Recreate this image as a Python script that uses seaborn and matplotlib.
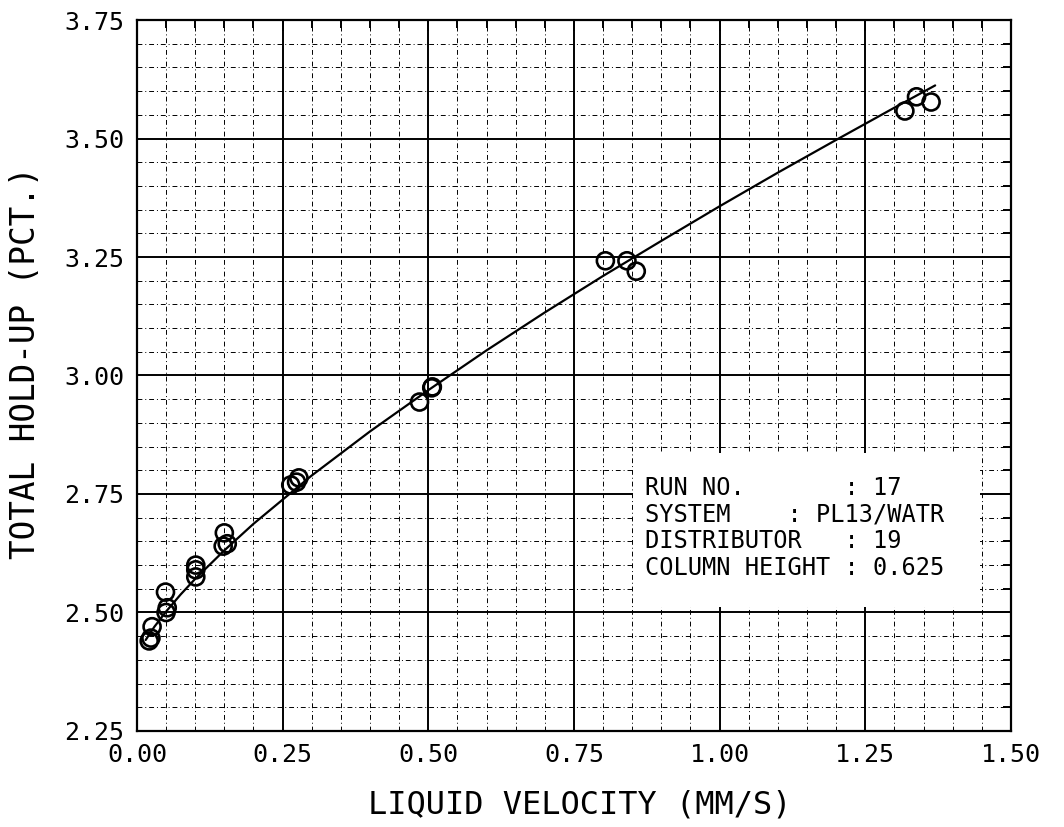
import matplotlib
matplotlib.use("Agg")
import matplotlib.pyplot as plt
import pandas as pd
import seaborn as sns
from matplotlib.patches import Rectangle
from matplotlib.ticker import FixedLocator, FixedFormatter, MultipleLocator

# Measured total hold-up against superficial liquid velocity
velocity = [0.021, 0.024, 0.026, 0.049, 0.052, 0.050, 0.101, 0.101, 0.101,
            0.150, 0.148, 0.155, 0.264, 0.274, 0.278, 0.485, 0.506, 0.507,
            0.804, 0.841, 0.857, 1.318, 1.338, 1.363]
holdup = [2.440, 2.446, 2.470, 2.543, 2.510, 2.500, 2.600, 2.590, 2.575,
          2.668, 2.640, 2.645, 2.769, 2.775, 2.784, 2.944, 2.974, 2.976,
          3.242, 3.242, 3.220, 3.558, 3.588, 3.577]

# Correlation curve through the measurements
fit_velocity = [0.015, 0.03, 0.05, 0.075, 0.10, 0.15, 0.20, 0.30, 0.40, 0.50,
                0.60, 0.70, 0.80, 0.90, 1.00, 1.10, 1.20, 1.30, 1.37]
fit_holdup = [2.442, 2.470, 2.502, 2.538, 2.571, 2.631, 2.687, 2.789, 2.882,
              2.969, 3.053, 3.133, 3.210, 3.284, 3.357, 3.428, 3.497, 3.565,
              3.612]

x_ticks = [0.00, 0.25, 0.50, 0.75, 1.00, 1.25, 1.50]
x_tick_labels = ["0.00", "0.25", "0.50", "0.75", "1.00", "1.25", "1.50"]
y_ticks = [2.25, 2.50, 2.75, 3.00, 3.25, 3.50, 3.75]
y_tick_labels = ["2.25", "2.50", "2.75", "3.00", "3.25", "3.50", "3.75"]

info_lines = ["RUN NO.       : 17",
              "SYSTEM    : PL13/WATR",
              "DISTRIBUTOR   : 19",
              "COLUMN HEIGHT : 0.625"]

sns.set_style("white")
plt.rcParams["font.family"] = ["DejaVu Sans Mono", "DejaVu Sans"]
plt.rcParams["text.color"] = "black"

points = pd.DataFrame({"velocity": velocity, "holdup": holdup})
curve = pd.DataFrame({"velocity": fit_velocity, "holdup": fit_holdup})

fig = plt.figure(figsize=(10.64, 8.27), dpi=100)
ax = fig.add_axes([0.1287, 0.1161, 0.8214, 0.8597])

sns.lineplot(data=curve, x="velocity", y="holdup", ax=ax, color="black",
             lw=1.6, sort=False, estimator=None, zorder=4)
sns.scatterplot(data=points, x="velocity", y="holdup", ax=ax, marker="o",
                s=150, facecolors="none", edgecolor="black", linewidth=1.9,
                zorder=5)

ax.set_xlim(0.0, 1.5)
ax.set_ylim(2.25, 3.75)

ax.xaxis.set_major_locator(FixedLocator(x_ticks))
ax.xaxis.set_major_formatter(FixedFormatter(x_tick_labels))
ax.yaxis.set_major_locator(FixedLocator(y_ticks))
ax.yaxis.set_major_formatter(FixedFormatter(y_tick_labels))
ax.xaxis.set_minor_locator(MultipleLocator(0.05))
ax.yaxis.set_minor_locator(MultipleLocator(0.05))

ax.set_axisbelow(True)
ax.grid(which="major", color="black", lw=1.4, linestyle="-")
ax.grid(which="minor", color="black", lw=0.7, linestyle=(0, (5, 3, 1, 3)))

ax.tick_params(which="both", direction="in", top=True, right=True,
               width=1.4, colors="black", labelcolor="black")
ax.tick_params(which="major", length=8, labelsize=18, pad=9)
ax.tick_params(which="minor", length=6)
for spine in ax.spines.values():
    spine.set_visible(True)
    spine.set_color("black")
    spine.set_linewidth(1.6)

ax.set_xlabel("")
ax.set_ylabel("")
fig.text(0.545, 0.027, "LIQUID VELOCITY (MM/S)", ha="center", va="center",
         fontsize=23, color="black")
fig.text(0.024, 0.561, "TOTAL HOLD-UP (PCT.)", ha="center", va="center",
         rotation=90, fontsize=23.5, color="black")

# White panel holding the run details, blanking the grid behind it
ax.add_patch(Rectangle((0.5675, 0.174), 0.397, 0.217, transform=ax.transAxes,
                       facecolor="white", edgecolor="none", zorder=2.5))
ax.text(0.581, 0.359, "\n".join(info_lines), transform=ax.transAxes,
        ha="left", va="top", fontsize=17, linespacing=1.15, zorder=3,
        color="black")

fig.savefig("out.png", dpi=100)
